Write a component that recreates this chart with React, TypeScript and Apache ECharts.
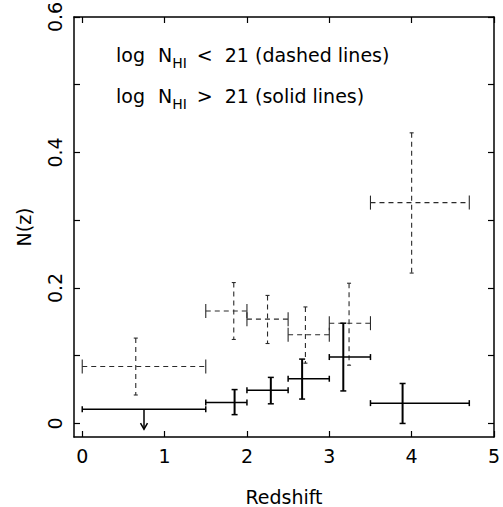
import React, { useEffect, useRef } from 'react';
import * as echarts from 'echarts';

// Redshift bins (shared by both samples)
const binLow = [0, 1.5, 2.0, 2.5, 3.0, 3.5];
const binHigh = [1.5, 2.0, 2.5, 3.0, 3.5, 4.7];

// log N_HI < 21 (dashed lines)
const dashedZ = [0.65, 1.84, 2.25, 2.71, 3.24, 4.0];
const dashedN = [0.084, 0.166, 0.154, 0.131, 0.148, 0.326];
const dashedNLow = [0.042, 0.124, 0.118, 0.089, 0.086, 0.222];
const dashedNHigh = [0.126, 0.208, 0.189, 0.172, 0.207, 0.429];

// log N_HI > 21 (solid lines)
const solidZ = [0.75, 1.85, 2.29, 2.67, 3.17, 3.89];
const solidN = [0.021, 0.031, 0.049, 0.066, 0.098, 0.03];
const solidNLow = [0.021, 0.013, 0.029, 0.036, 0.048, 0.0];
const solidNHigh = [0.021, 0.05, 0.068, 0.095, 0.148, 0.059];
const solidUpperLimit = [1, 0, 0, 0, 0, 0];

const xTicks = [0, 1, 2, 3, 4, 5];
const xLabels = [0, 1, 2, 3, 4, 5];
const yTicks = [0, 0.1, 0.2, 0.3, 0.4, 0.5, 0.6];
const yLabels = [0, 0.2, 0.4, 0.6];

const FONT = 'DejaVu Sans';

function buildData(z: number[], n: number[], lo: number[], hi: number[], lim?: number[]) {
  return z.map((zz, i) => [binLow[i], binHigh[i], zz, n[i], lo[i], hi[i], lim ? lim[i] : 0]);
}

function makeRender(dashed: boolean) {
  return (params: any, api: any) => {
    const xLo = api.value(0);
    const xHi = api.value(1);
    const xm = api.value(2);
    const n = api.value(3);
    const lo = api.value(4);
    const hi = api.value(5);
    const lim = api.value(6);
    const pL = api.coord([xLo, n]);
    const pR = api.coord([xHi, n]);
    const pm = api.coord([xm, n]);
    const pLo = api.coord([xm, lo]);
    const pHi = api.coord([xm, hi]);
    const stroke = dashed ? '#2a2a2a' : '#000';
    const lw = dashed ? 1.1 : 1.5;
    const dash = dashed ? [5, 4] : undefined;
    const hCap = dashed ? 7 : 3;
    const vCap = dashed ? 2 : 3;
    const line = (x1: number, y1: number, x2: number, y2: number, d?: number[], w?: number) => ({
      type: 'line',
      shape: { x1, y1, x2, y2 },
      style: { stroke, lineWidth: w || lw, lineDash: d, fill: null },
    });
    const children: any[] = [];
    children.push(line(pL[0], pL[1], pR[0], pR[1], dash));
    children.push(line(pL[0], pL[1] - hCap, pL[0], pL[1] + hCap));
    children.push(line(pR[0], pR[1] - hCap, pR[0], pR[1] + hCap));
    if (lim) {
      const tip = pm[1] + 20;
      children.push(line(pm[0], pm[1], pm[0], tip, undefined, 1.5));
      children.push({
        type: 'polyline',
        shape: { points: [[pm[0] - 3.5, tip - 6], [pm[0], tip], [pm[0] + 3.5, tip - 6]] },
        style: { stroke, lineWidth: 1.5, fill: null },
      });
    } else {
      children.push(line(pHi[0], pHi[1], pLo[0], pLo[1], dash, dashed ? 1.1 : 2));
      children.push(line(pHi[0] - vCap, pHi[1], pHi[0] + vCap, pHi[1]));
      children.push(line(pLo[0] - vCap, pLo[1], pLo[0] + vCap, pLo[1]));
    }
    return { type: 'group', children };
  };
}

export default function App() {
  const ref = useRef<HTMLDivElement>(null);
  useEffect(() => {
    if (!ref.current) return;
    const chart = echarts.init(ref.current, undefined, { renderer: 'svg' });
    const axisLine = { show: true, onZero: false, lineStyle: { color: '#000', width: 1.5 } };
    const xBase = {
      type: 'value',
      min: -0.1,
      max: 5,
      splitLine: { show: false },
      axisLine,
    };
    const yBase = {
      type: 'value',
      min: -0.02,
      max: 0.6,
      splitLine: { show: false },
      axisLine,
    };
    const richText = (rel: string, rest: string) =>
      `{a|log}{n|N}{s|HI}{r|${rel}}{a|${rest}}`;
    const rich = {
      a: { fontSize: 19, fontFamily: FONT, lineHeight: 30, verticalAlign: 'middle', fill: '#000' },
      n: { fontSize: 19, fontFamily: FONT, lineHeight: 30, verticalAlign: 'middle', fill: '#000', padding: [0, 0, 0, 13] },
      r: { fontSize: 19, fontFamily: FONT, lineHeight: 30, verticalAlign: 'middle', fill: '#000', padding: [0, 12, 0, 10] },
      s: { fontSize: 14, fontFamily: FONT, lineHeight: 14, verticalAlign: 'bottom', fill: '#000' },
    };
    chart.setOption({
      animation: false,
      backgroundColor: '#fff',
      textStyle: { fontFamily: FONT },
      grid: { left: 74, top: 17, width: 420, height: 420, containLabel: false, outerBoundsMode: 'none' },
      xAxis: [
        {
          ...xBase,
          position: 'bottom',
          name: 'Redshift',
          nameLocation: 'middle',
          nameGap: 50,
          nameTextStyle: { fontSize: 19, color: '#000', fontFamily: FONT },
          axisTick: { show: true, inside: true, length: 6, customValues: xTicks, lineStyle: { color: '#000', width: 1.2 } },
          axisLabel: { show: true, customValues: xLabels, fontSize: 19, color: '#000', margin: 9, fontFamily: FONT },
        },
        {
          ...xBase,
          position: 'top',
          axisTick: { show: true, inside: true, length: 6, customValues: xTicks, lineStyle: { color: '#000', width: 1.2 } },
          axisLabel: { show: false },
        },
      ],
      yAxis: [
        {
          ...yBase,
          position: 'left',
          name: 'N(z)',
          nameLocation: 'middle',
          nameRotate: 90,
          nameGap: 41,
          nameTextStyle: { fontSize: 19, color: '#000', fontFamily: FONT },
          axisTick: { show: true, inside: true, length: 6, customValues: yTicks, lineStyle: { color: '#000', width: 1.2 } },
          axisLabel: { show: true, customValues: yLabels, rotate: 90, fontSize: 19, color: '#000', margin: 10, fontFamily: FONT },
        },
        {
          ...yBase,
          position: 'right',
          axisTick: { show: true, inside: true, length: 6, customValues: yTicks, lineStyle: { color: '#000', width: 1.2 } },
          axisLabel: { show: false },
        },
      ],
      series: [
        {
          type: 'custom',
          name: 'dashed',
          renderItem: makeRender(true),
          encode: { x: [0, 1, 2], y: [3, 4, 5] },
          data: buildData(dashedZ, dashedN, dashedNLow, dashedNHigh),
          silent: true,
        },
        {
          type: 'custom',
          name: 'solid',
          renderItem: makeRender(false),
          encode: { x: [0, 1, 2], y: [3, 4, 5] },
          data: buildData(solidZ, solidN, solidNLow, solidNHigh, solidUpperLimit),
          silent: true,
        },
      ],
      graphic: [
        {
          type: 'text',
          left: 116,
          top: 45,
          style: { text: richText('<', '21 (dashed lines)'), rich, fill: '#000' },
        },
        {
          type: 'text',
          left: 116,
          top: 86,
          style: { text: richText('>', '21 (solid lines)'), rich, fill: '#000' },
        },
      ],
    });
    return () => chart.dispose();
  }, []);
  return (
    <div
      ref={ref}
      style={{ position: 'fixed', left: 0, top: 0, width: 503, height: 507, background: '#fff' }}
    />
  );
}
